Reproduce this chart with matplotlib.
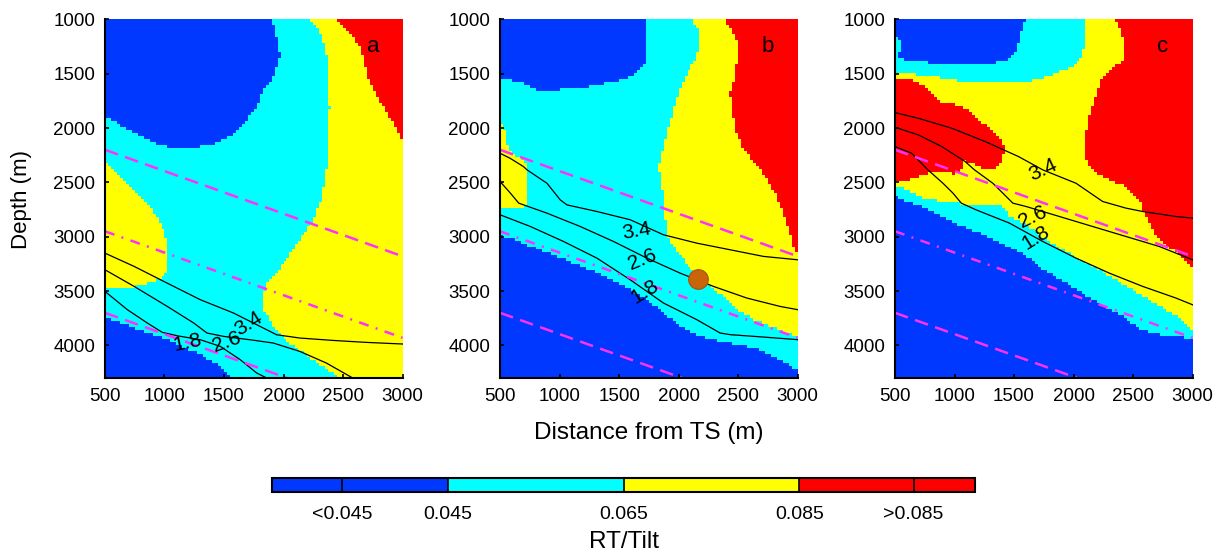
import numpy as np
import matplotlib.pyplot as plt
from matplotlib.colors import ListedColormap, BoundaryNorm
from matplotlib.cm import ScalarMappable
from matplotlib.path import Path

plt.rcParams['font.family'] = ['Liberation Sans', 'DejaVu Sans']

# RT/Tilt classes: 0 = <0.045, 1 = 0.045-0.065, 2 = 0.065-0.085, 3 = >0.085
class_colors = ['#0038ff', '#00ffff', '#ffff00', '#ff0000']
cb_bounds = [0.025, 0.045, 0.065, 0.085, 0.105]
cb_ticks = [0.033, 0.045, 0.065, 0.085, 0.098]
cb_labels = ['<0.045', '0.045', '0.065', '0.085', '>0.085']

# grid of the class maps (distance from TS, depth), both in m
x_edges = np.arange(500, 3001, 25)
y_edges = np.linspace(1000, 4300, 121)

# ---- panel a : class regions (distance, depth) ----
a_blue_top = [(500, 1000), (1900, 1000), (1928, 1098), (1970, 1343), (1914, 1527), (1831, 1650),
              (1775, 1803), (1664, 1956), (1552, 2078), (1385, 2155), (1190, 2186), (1023, 2170),
              (884, 2124), (745, 2048), (606, 1956), (500, 1895)]
a_yellow_right = [(2221, 1000), (3000, 1000), (3000, 4300), (2471, 4300), (2415, 4254), (2248, 4131),
                  (2053, 3978), (1914, 3825), (1831, 3672), (1825, 3549), (1859, 3427), (1942, 3335),
                  (2026, 3212), (2137, 3028), (2248, 2845), (2318, 2661), (2360, 2416), (2382, 2109),
                  (2388, 1803), (2374, 1527), (2360, 1282), (2304, 1098)]
a_red = [(2443, 1000), (3000, 1000), (3000, 2124), (2917, 1956), (2833, 1803), (2750, 1650),
         (2694, 1496), (2680, 1374), (2638, 1251), (2582, 1159), (2499, 1067)]
a_yellow_left = [(500, 2308), (634, 2446), (801, 2630), (940, 2814), (1023, 3028), (1037, 3212),
                 (1009, 3365), (940, 3396), (829, 3442), (689, 3473), (500, 3488)]
a_blue_bottom = [(500, 3748), (745, 3840), (1023, 3948), (1302, 4085), (1469, 4193), (1566, 4300),
                 (500, 4300)]

# ---- panel b ----
b_blue_top = [(500, 1000), (1733, 1000), (1733, 1374), (1649, 1496), (1537, 1558), (1397, 1588),
              (1257, 1619), (1089, 1634), (836, 1665), (696, 1588), (584, 1558), (500, 1542)]
b_yellow = [(2112, 1000), (2168, 1098), (2182, 1221), (2140, 1374), (2070, 1496), (2014, 1619),
            (1972, 1772), (1930, 1925), (1874, 2140), (1831, 2354), (1859, 2538), (1873, 2691),
            (1901, 2998), (1957, 3089), (2041, 3212), (2097, 3304), (2153, 3365), (2265, 3457),
            (2377, 3549), (2489, 3671), (2629, 3763), (2768, 3825), (2908, 3886), (3000, 3917),
            (3000, 1000)]
b_red = [(2378, 1000), (3000, 1000), (3000, 3166), (2964, 3089), (2908, 2875), (2824, 2630),
         (2680, 2360), (2546, 2201), (2490, 2048), (2448, 1833), (2434, 1680), (2476, 1527),
         (2490, 1374), (2504, 1251), (2462, 1129), (2406, 1037)]
b_yellow_left = [(500, 1956), (530, 1971), (545, 2080), (570, 2200), (640, 2262), (720, 2320),
                 (727, 2450), (727, 2690), (690, 2720), (640, 2730), (500, 2737)]
b_blue_bottom = [(500, 2982), (643, 3028), (755, 3089), (1034, 3212), (1314, 3335), (1594, 3488),
                 (1734, 3580), (1873, 3702), (2013, 3825), (2153, 3901), (2293, 3947), (2433, 3978),
                 (2573, 4008), (2713, 4054), (2852, 4131), (3000, 4230), (3000, 4300), (500, 4300)]
b_well = (2167, 3390)

# ---- panel c ----
c_cyan_top = [(500, 1000), (2098, 1000), (2098, 1221), (2070, 1343), (1986, 1435), (1817, 1512),
              (1621, 1573), (1397, 1588), (1201, 1588), (977, 1558), (836, 1527), (696, 1512),
              (584, 1496), (500, 1481)]
c_blue_top = [(500, 1000), (1593, 1000), (1565, 1098), (1537, 1221), (1509, 1313), (1453, 1374),
              (1313, 1404), (1173, 1420), (977, 1420), (836, 1404), (696, 1389), (584, 1374),
              (528, 1343), (500, 1328)]
c_cyan_notch = [(500, 1175), (535, 1180), (545, 1250), (535, 1320), (500, 1328)]
c_red_right = [(2350, 1000), (3000, 1000), (3000, 3304), (2972, 3273), (2860, 3151), (2693, 2998),
               (2609, 2814), (2553, 2661), (2441, 2538), (2301, 2477), (2161, 2385), (2110, 2300),
               (2098, 2140), (2126, 1925), (2182, 1741), (2238, 1558), (2350, 1435), (2434, 1374),
               (2434, 1251), (2406, 1129)]
c_red_left = [(500, 1542), (640, 1558), (752, 1619), (836, 1711), (892, 1772), (1033, 1787),
              (1117, 1833), (1201, 1925), (1313, 2017), (1397, 2109), (1425, 2201), (1400, 2300),
              (1330, 2370), (1285, 2385), (1230, 2370), (1173, 2324), (1089, 2300), (1060, 2380),
              (1000, 2420), (900, 2400), (836, 2400), (760, 2420), (696, 2446), (640, 2470),
              (584, 2477), (500, 2480)]
c_cyan_band = [(500, 2523), (595, 2569), (707, 2630), (903, 2676), (1042, 2691), (1182, 2707),
               (1322, 2691), (1406, 2722), (1462, 2814), (1602, 2890), (1742, 2998), (1882, 3105),
               (2021, 3197), (2161, 3273), (2301, 3365), (2441, 3457), (2581, 3549), (2721, 3641),
               (2860, 3733), (2944, 3825), (3000, 3860), (3000, 4300), (500, 4300)]
c_blue_bottom = [(500, 2630), (651, 2691), (763, 2737), (903, 2814), (1042, 2890), (1182, 2952),
                 (1322, 3013), (1462, 3090), (1602, 3181), (1742, 3304), (1882, 3396), (2021, 3488),
                 (2161, 3580), (2301, 3671), (2441, 3748), (2553, 3855), (2721, 3901), (2888, 3917),
                 (3000, 3947), (3000, 4300), (500, 4300)]

# ---- contour lines (level -> polyline) and label placement ----
a_contours = {
    '3.4': [(500, 3151), (745, 3273), (1023, 3427), (1302, 3580), (1580, 3702), (1803, 3825),
            (1942, 3902), (2137, 3932), (2415, 3954), (2694, 3972), (3000, 3987)],
    '2.6': [(500, 3304), (745, 3457), (1023, 3641), (1246, 3794), (1357, 3886), (1497, 3917),
            (1719, 3948), (1914, 3978), (2137, 4055), (2360, 4162), (2582, 4300)],
    '1.8': [(500, 3503), (689, 3672), (856, 3794), (982, 3880), (1107, 3911), (1302, 3948),
            (1469, 4009), (1636, 4131), (1775, 4254), (1859, 4300)],
}
a_labels = [('1.8', 1196, 3978, 12), ('2.6', 1524, 3972, 20), ('3.4', 1706, 3800, 32)]

b_contours = {
    '3.4': [(500, 2232), (584, 2278), (696, 2354), (727, 2385), (894, 2508), (1006, 2661),
            (1062, 2707), (1314, 2768), (1594, 2844), (1873, 2982), (2153, 3059), (2433, 3120),
            (2713, 3181), (3000, 3212)],
    '2.6': [(500, 2492), (587, 2599), (657, 2691), (894, 2783), (1174, 2906), (1454, 3044),
            (1734, 3197), (2013, 3335), (2293, 3457), (2573, 3564), (2852, 3641), (3000, 3671)],
    '1.8': [(500, 2798), (755, 2906), (1034, 3044), (1314, 3197), (1594, 3396), (1873, 3610),
            (2153, 3763), (2349, 3886), (2433, 3901), (2713, 3923), (3000, 3947)],
}
b_labels = [('3.4', 1650, 2952, 10), ('2.6', 1692, 3212, 22), ('1.8', 1720, 3503, 32)]

c_contours = {
    '3.4': [(500, 1858), (696, 1910), (977, 2002), (1257, 2124), (1537, 2262), (1742, 2385),
            (2021, 2508), (2245, 2676), (2441, 2737), (2581, 2768), (2860, 2814), (3000, 2829)],
    '2.6': [(500, 1993), (696, 2063), (892, 2170), (1089, 2308), (1168, 2385), (1322, 2508),
            (1406, 2599), (1490, 2691), (1602, 2722), (1882, 2814), (2161, 2906), (2441, 2998),
            (2721, 3090), (3000, 3212)],
    '1.8': [(500, 2170), (640, 2232), (777, 2385), (903, 2508), (987, 2599), (1057, 2691),
            (1182, 2753), (1462, 2875), (1742, 3044), (2021, 3197), (2301, 3335), (2581, 3457),
            (2860, 3564), (3000, 3626)],
}
c_labels = [('3.4', 1747, 2385, 25), ('2.6', 1658, 2814, 25), ('1.8', 1686, 3013, 32)]

# reference horizons (depth at 500 m and at 3000 m) and their line styles
horizon_x = [500, 3000]
horizon_depths = [(2200, 3180), (2950, 3930), (3700, 4680)]
horizon_dashes = [(5.5, 3.0), (4.0, 3.0, 0.8, 3.0), (5.5, 3.0)]

panels = [
    ('a', 1, [(0, a_blue_top), (2, a_yellow_right), (3, a_red), (2, a_yellow_left),
              (0, a_blue_bottom)], a_contours, a_labels),
    ('b', 1, [(0, b_blue_top), (2, b_yellow), (3, b_red), (2, b_yellow_left),
              (0, b_blue_bottom)], b_contours, b_labels),
    ('c', 2, [(1, c_cyan_top), (0, c_blue_top), (1, c_cyan_notch), (3, c_red_right),
              (3, c_red_left), (1, c_cyan_band), (0, c_blue_bottom)], c_contours, c_labels),
]

xc = 0.5 * (x_edges[:-1] + x_edges[1:])
yc = 0.5 * (y_edges[:-1] + y_edges[1:])
XX, YY = np.meshgrid(xc, yc)
cell_pts = np.column_stack([XX.ravel(), YY.ravel()])


def class_grid(background, layers):
    grid = np.full(XX.shape, background)
    for code, poly in layers:
        inside = Path(poly).contains_points(cell_pts).reshape(XX.shape)
        grid[inside] = code
    return grid


cmap = ListedColormap(class_colors)
norm = BoundaryNorm([-0.5, 0.5, 1.5, 2.5, 3.5], cmap.N)

fig = plt.figure(figsize=(12.22, 5.56), dpi=100)
ax_lefts = [0.0859, 0.4092, 0.7324]

for left, (letter, bg, layers, contours, labels) in zip(ax_lefts, panels):
    ax = fig.add_axes([left, 0.3201, 0.2435, 0.6451])
    ax.pcolormesh(x_edges, y_edges, class_grid(bg, layers), cmap=cmap, norm=norm)

    for level, line in contours.items():
        px, py = zip(*line)
        ax.plot(px, py, color='black', lw=0.9)
    for txt, tx, ty, rot in labels:
        ax.text(tx, ty, txt, fontsize=15, rotation=rot, ha='center', va='center')

    for (d0, d1), dash in zip(horizon_depths, horizon_dashes):
        ax.plot(horizon_x, [d0, d1], color='#ff30ff', lw=1.8, dashes=dash)

    if letter == 'b':
        ax.scatter([b_well[0]], [b_well[1]], s=200, color='#c8640a',
                   edgecolors='#a8520a', linewidths=0.8, zorder=5)

    ax.set_xlim(500, 3000)
    ax.set_ylim(4300, 1000)
    ax.set_xticks(np.arange(500, 3001, 500))
    ax.set_yticks(np.arange(1000, 4001, 500))
    for side in ('top', 'right'):
        ax.spines[side].set_visible(False)
    for side in ('left', 'bottom'):
        ax.spines[side].set_linewidth(1.5)
    ax.tick_params(direction='in', length=3, width=1.2, labelsize=13.5, pad=7)
    ax.text(0.90, 0.925, letter, transform=ax.transAxes, fontsize=16,
            ha='center', va='center')

fig.text(0.018, 0.642, 'Depth (m)', rotation=90, fontsize=16, ha='center', va='center')
fig.text(0.5307, 0.221, 'Distance from TS (m)', fontsize=17.5, ha='center', va='center')

# colour bar of the RT/Tilt classes
cax = fig.add_axes([0.2226, 0.1151, 0.5753, 0.0252])
sm = ScalarMappable(norm=BoundaryNorm(cb_bounds, cmap.N), cmap=cmap)
cb = fig.colorbar(sm, cax=cax, orientation='horizontal', ticks=cb_ticks)
cb.set_ticklabels(cb_labels)
cb.minorticks_off()
cb.outline.set_linewidth(1.5)
cax.tick_params(which='both', length=0, labelsize=14, pad=10)
for t in cb_ticks:
    cax.axvline(t, color='black', lw=1.2)
cb.set_label('RT/Tilt', fontsize=17.5, labelpad=6)

fig.savefig('out.png', dpi=100)
